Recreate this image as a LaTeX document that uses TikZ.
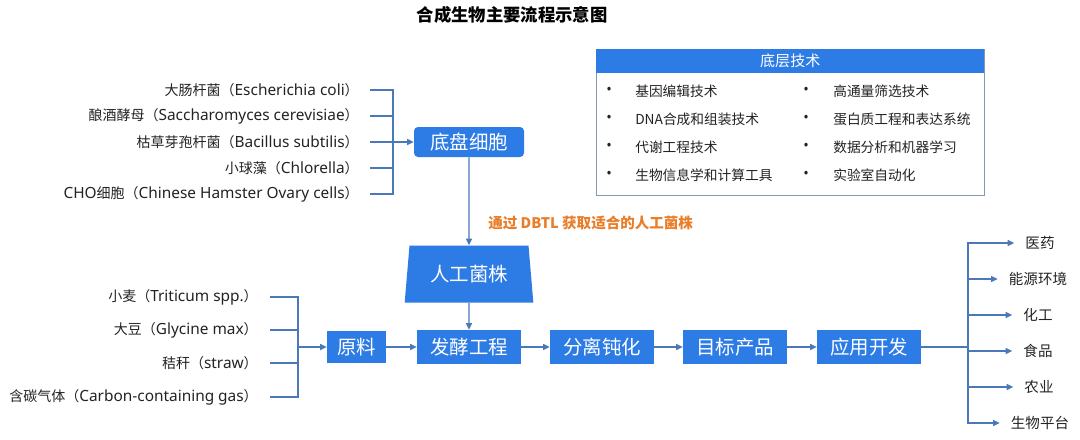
\documentclass[tikz,border=0pt]{standalone}
\usepackage{fontspec}
\setmainfont{Noto Sans CJK SC}
\newfontfamily\lf{Noto Sans}[Scale=1.1]
\newfontfamily\bulf{Noto Sans}
\usetikzlibrary{arrows.meta,shapes.geometric,calc}
\definecolor{mblue}{RGB}{45,123,229}
\definecolor{lblue}{RGB}{74,120,184}
\definecolor{dborder}{RGB}{135,152,172}
\definecolor{dorange}{RGB}{234,125,40}
\definecolor{dtext}{RGB}{35,35,35}
\def\px{0.75pt}
\begin{document}
\begin{tikzpicture}[x=0.75pt,y=-0.75pt,
  ln/.style={draw=lblue,line width=1.1pt},
  arr/.style={ln,-{Triangle[length=5pt,width=4.5pt]}},
  lbl/.style={inner sep=0pt,text=dtext,font=\fontsize{10.5}{12}\selectfont},
  rlbl/.style={inner sep=0pt,text=dtext,font=\fontsize{10.9}{12}\selectfont},
  tlbl/.style={inner sep=0pt,text=dtext,anchor=west,font=\fontsize{10.3}{12}\selectfont},
  bul/.style={inner sep=0pt,text=dtext,font=\bulf\fontsize{11}{12}\selectfont},
  sqbox/.style={fill=mblue,text=white,inner sep=0pt,minimum height=34*\px,minimum width=104*\px,font=\fontsize{14.6}{16}\selectfont},
  rdbox/.style={sqbox,rounded corners=3pt,minimum height=30*\px,minimum width=110*\px}]
\useasboundingbox[fill=white] (0,0) rectangle (1080,439);

% title
\node[inner sep=0pt,text=black,font=\bfseries\fontsize{13}{15}\selectfont] (title) at (512,15) {合成生物主要流程示意图};

% chassis cells list
\node[lbl,anchor=east] (c1) at (359,90) {大肠杆菌（{\lf Escherichia coli}）};
\node[lbl,anchor=east] (c2) at (359,116) {酿酒酵母（{\lf Saccharomyces cerevisiae}）};
\node[lbl,anchor=east] (c3) at (359,142) {枯草芽孢杆菌（{\lf Bacillus subtilis}）};
\node[lbl,anchor=east] (c4) at (359,168) {小球藻（{\lf Chlorella}）};
\node[lbl,anchor=east] (c5) at (359,194) {{\lf CHO}细胞（{\lf Chinese Hamster Ovary cells}）};
\coordinate (jc) at (393,142);
\foreach \n in {c1,c2,c3,c4,c5} \draw[ln] ([xshift=11*\px]\n.east) -| (jc);

\node[rdbox] (chassis) at (469,142) {底盘细胞};
\draw[arr] (jc) -- (chassis.west);

% engineered strain
\node[trapezium,trapezium stretches=true,trapezium left angle=80,trapezium right angle=80,
  fill=mblue,text=white,inner sep=0pt,minimum width=129*\px,minimum height=57*\px,
  font=\fontsize{14.6}{16}\selectfont] (strain) at (469,274) {人工菌株};
\draw[arr] (chassis.south) -- (strain.north);
\node[inner sep=0pt,anchor=west,text=dorange,font=\bfseries\fontsize{10.9}{12}\selectfont] (dbtl) at (488,223) {通过 DBTL 获取适合的人工菌株};

% raw materials list
\node[lbl,anchor=east] (r1) at (258,297) {小麦（{\lf Triticum spp.}）};
\node[lbl,anchor=east] (r2) at (258,330) {大豆（{\lf Glycine max}）};
\node[lbl,anchor=east] (r3) at (258,363) {秸秆（{\lf straw}）};
\node[lbl,anchor=east] (r4) at (258,397) {含碳气体（{\lf Carbon-containing gas}）};
\coordinate (jr) at (298,347);
\foreach \n in {r1,r2,r3,r4} \draw[ln] ([xshift=12*\px]\n.east) -| (jr);

% main chain
\node[sqbox,minimum width=59*\px,minimum height=32*\px] (raw) at (356.5,347) {原料};
\node[sqbox] (ferm) at (469,347) {发酵工程};
\node[sqbox] (sep) at (602,347) {分离钝化};
\node[sqbox] (prod) at (735,347) {目标产品};
\node[sqbox] (app) at (869,347) {应用开发};
\draw[arr] (jr) -- (raw.west);
\draw[arr] (strain.south) -- (ferm.north);
\draw[arr] (raw) -- (ferm);
\draw[arr] (ferm) -- (sep);
\draw[arr] (sep) -- (prod);
\draw[arr] (prod) -- (app);

% applications
\coordinate (ja) at (968,347);
\draw[ln] (app.east) -- (ja);
\node[rlbl] (m1) at (1040,243) {医药};
\node[rlbl] (m2) at (1038,279) {能源环境};
\node[rlbl] (m3) at (1038,315) {化工};
\node[rlbl] (m4) at (1038,351) {食品};
\node[rlbl] (m5) at (1039,387) {农业};
\node[rlbl] (m6) at (1040,423) {生物平台};
\foreach \n in {m1,m2,m3,m4,m5,m6} \draw[arr] (ja) |- ([xshift=-11*\px]\n.west);

% base technologies box
\node[draw=dborder,line width=0.8pt,inner sep=0pt,anchor=north west,minimum width=388*\px,minimum height=146*\px] (tech) at (596,49) {};
\node[fill=mblue,text=white,inner sep=0pt,anchor=north west,minimum width=388*\px,minimum height=24*\px,font=\fontsize{11.3}{13}\selectfont] (techhead) at (596,49) {底层技术};
\node[bul] (b1) at (609,91) {•};
\node[bul] (b2) at (609,119) {•};
\node[bul] (b3) at (609,147) {•};
\node[bul] (b4) at (609,175) {•};
\node[bul] (b5) at (806,91) {•};
\node[bul] (b6) at (806,119) {•};
\node[bul] (b7) at (806,147) {•};
\node[bul] (b8) at (806,175) {•};
\node[tlbl] (t1) at (635,91) {基因编辑技术};
\node[tlbl] (t2) at (635,119) {DNA合成和组装技术};
\node[tlbl] (t3) at (635,147) {代谢工程技术};
\node[tlbl] (t4) at (635,175) {生物信息学和计算工具};
\node[tlbl] (t5) at (833,91) {高通量筛选技术};
\node[tlbl] (t6) at (833,119) {蛋白质工程和表达系统};
\node[tlbl] (t7) at (833,147) {数据分析和机器学习};
\node[tlbl] (t8) at (833,175) {实验室自动化};
\end{tikzpicture}
\end{document}
